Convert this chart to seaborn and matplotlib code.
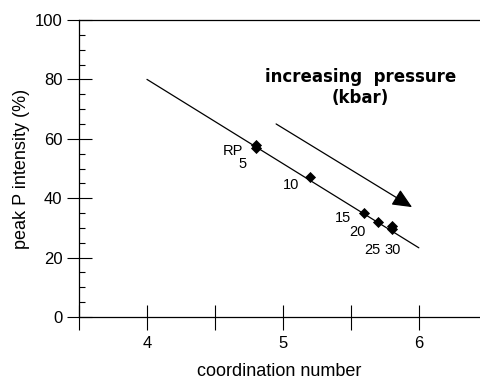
import matplotlib
matplotlib.use("Agg")
import matplotlib.pyplot as plt
import seaborn as sns
import pandas as pd
from matplotlib.ticker import MultipleLocator

sns.set_theme(style="ticks")
plt.rcParams['font.family'] = ['Liberation Sans', 'DejaVu Sans']
plt.rcParams['text.color'] = 'black'
plt.rcParams['axes.labelcolor'] = 'black'

# data
coord = [4.80, 4.80, 5.20, 5.60, 5.70, 5.80, 5.80]
intensity = [58.0, 57.0, 47.0, 35.0, 32.0, 30.5, 29.5]
labels = ["RP", "5", "10", "15", "20", "25", "30"]
label_x = [4.63, 4.70, 5.06, 5.44, 5.55, 5.66, 5.81]
label_y = [55.9, 51.6, 44.4, 33.3, 28.6, 22.5, 22.5]
fit_x = [4.0, 6.0]
fit_y = [80.0, 23.3]
arrow_start = (4.95, 65.0)
arrow_end = (5.95, 37.0)

fig = plt.figure(figsize=(4.8, 3.83), dpi=100)
ax = fig.add_axes([0.1646, 0.1723, 0.8354, 0.7755])

df_fit = pd.DataFrame({"x": fit_x, "y": fit_y})
sns.lineplot(data=df_fit, x="x", y="y", ax=ax, color="black", linewidth=0.9)

df = pd.DataFrame({"x": coord, "y": intensity})
sns.scatterplot(data=df, x="x", y="y", ax=ax, marker="D", color="black",
                s=32, edgecolor="black", linewidth=0, zorder=3)

for t, lx, ly in zip(labels, label_x, label_y):
    ax.text(lx, ly, t, ha="center", va="center", fontsize=10.5, color="black")

ax.annotate("", xy=arrow_end, xytext=arrow_start,
            arrowprops=dict(arrowstyle="-|>,head_length=1.0,head_width=0.45",
                            color="black", lw=0.9, shrinkA=0, shrinkB=0))

ax.text(5.57, 80.8, "increasing  pressure", ha="center", va="center",
        fontsize=12, fontweight="bold", family="DejaVu Sans", color="black")
ax.text(5.57, 73.7, "(kbar)", ha="center", va="center",
        fontsize=12, fontweight="bold", family="DejaVu Sans", color="black")

ax.set_xlim(3.5, 6.45)
ax.set_ylim(0, 100)
ax.xaxis.set_major_locator(MultipleLocator(0.5))
ax.set_xticklabels(["" if abs(v - round(v)) > 1e-6 else str(int(round(v)))
                    for v in ax.get_xticks()])
ax.yaxis.set_major_locator(MultipleLocator(20))
ax.yaxis.set_minor_locator(MultipleLocator(5))

ax.tick_params(axis="both", which="major", direction="inout", length=18,
               width=0.8, color="black", labelsize=12, labelcolor="black")
ax.tick_params(axis="y", which="minor", direction="in", length=4, width=0.8,
               color="black")
ax.tick_params(axis="x", pad=5)
ax.tick_params(axis="y", pad=3)

for s in ["left", "bottom", "top"]:
    ax.spines[s].set_visible(True)
    ax.spines[s].set_color("black")
    ax.spines[s].set_linewidth(0.9)
ax.spines["right"].set_visible(False)

ax.set_xlabel("coordination number", fontsize=13, color="black", labelpad=8)
ax.set_ylabel("peak P intensity (%)", fontsize=13, color="black", labelpad=3)

fig.savefig("out.png", dpi=100)
